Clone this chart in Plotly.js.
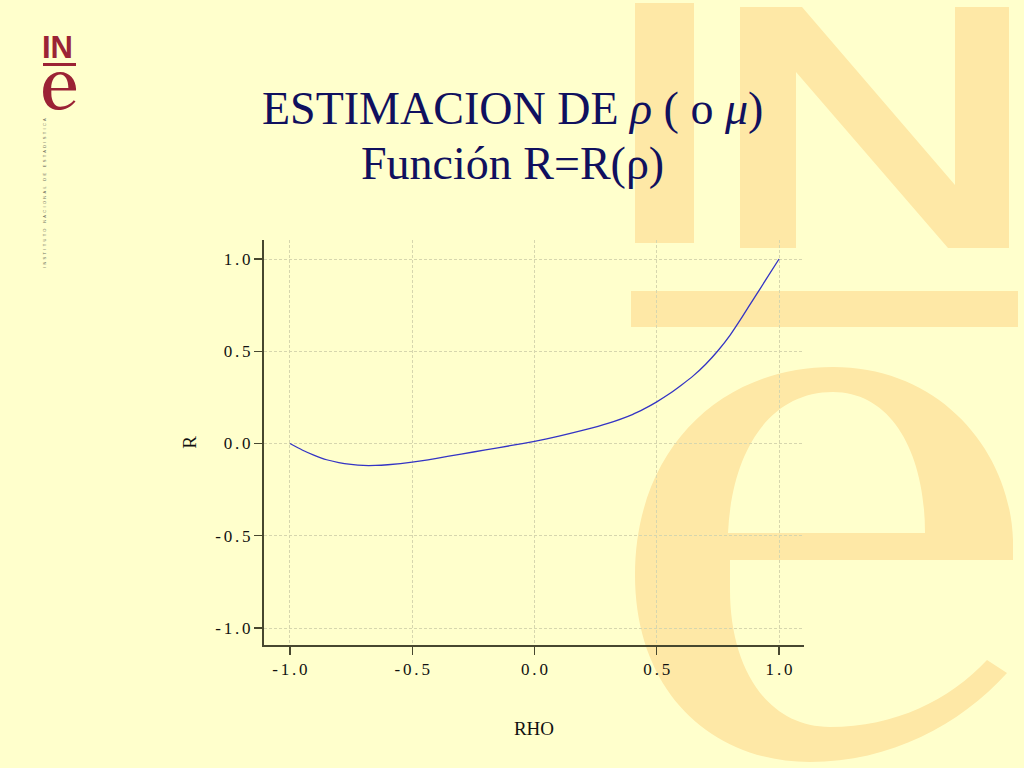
<!DOCTYPE html>
<html>
<head>
<meta charset="utf-8">
<script src="https://cdn.plot.ly/plotly-3.0.1.min.js"></script>
<style>
  html, body { margin:0; padding:0; background:#FFFFCC; }
  #wrap { position:relative; width:1024px; height:768px; overflow:hidden; background:#FFFFCC; }
  #bg { position:absolute; left:0; top:0; }
  #chart { position:absolute; left:0; top:0; width:1024px; height:768px; }
</style>
</head>
<body>
<div id="wrap">
  <svg id="bg" width="1024" height="768" xmlns="http://www.w3.org/2000/svg">
    <defs>
      <path id="eglyph" fill-rule="evenodd" d="M 1013 560 L 1013 540 C 1010 450, 940 367, 833 367 C 720 367, 635 450, 635 575
               C 635 690, 710 762, 810 762 C 890 762, 960 725, 1007 673 L 987 660
               C 950 700, 895 727, 830 727 C 765 727, 730 665, 730 590 L 730 560 Z
               M 728 533 L 925 533 C 925 450, 890 392, 833 392 C 770 392, 732 450, 728 533 Z"/>
    </defs>
    <g fill="#FEE8A6">
      <rect x="635" y="3" width="59" height="240"/>
      <polygon points="740,7 802,7 955,185 955,7 1009,7 1009,248 948,248 796,72 796,248 740,248"/>
      <rect x="631" y="291" width="387" height="36"/>
      <use href="#eglyph"/>
    </g>
    <g fill="#9B2335">
      <text x="42" y="58" font-family="Liberation Sans, Arial, sans-serif" font-weight="bold" font-size="31">IN</text>
      <rect x="43" y="63" width="33" height="3"/>
      <use href="#eglyph" transform="translate(-12.4,36.7) scale(0.0873,0.0962)"/>
    </g>
    <text transform="translate(46,268) rotate(-90)" font-family="Liberation Sans, Arial, sans-serif" font-size="4" letter-spacing="2.3" fill="#6f6f60">INSTITUTO NACIONAL DE ESTADISTICA</text>
  </svg>
  <div id="chart"></div>
</div>
<script>
const rho = [-1.0, -0.95, -0.9, -0.85, -0.8, -0.75, -0.7, -0.65, -0.6, -0.5, -0.4, -0.3, -0.2, -0.1,
             0.0, 0.1, 0.2, 0.3, 0.4, 0.45, 0.5, 0.55, 0.6, 0.65, 0.7, 0.75, 0.8, 0.85, 0.9, 0.95, 1.0];
const R   = [0.0, -0.035, -0.064, -0.088, -0.103, -0.113, -0.119, -0.119, -0.115, -0.101, -0.080, -0.057, -0.035, -0.012,
             0.012, 0.040, 0.072, 0.109, 0.157, 0.189, 0.226, 0.268, 0.316, 0.368, 0.430, 0.503, 0.588, 0.688, 0.792, 0.896, 1.0];

const tickVals = [-1, -0.5, 0, 0.5, 1];
const sp = '\u2006';
const tickText = ['-' + sp + '1' + sp + '.' + sp + '0', '-' + sp + '0' + sp + '.' + sp + '5',
                  '0' + sp + '.' + sp + '0', '0' + sp + '.' + sp + '5', '1' + sp + '.' + sp + '0'];

const titleLine1 = 'ESTIMACION DE <i>\u03C1</i> ( o <i>\u03BC</i>)';
const titleLine2 = 'Funci\u00F3n R=R(\u03C1)';
const xTitle = 'RHO';
const yTitle = 'R';

const serif = 'Liberation Serif, Times New Roman, serif';
const axisColor = '#47472f';
const gridColor = '#d6d6ae';

const trace = {
  x: rho, y: R, type: 'scatter', mode: 'lines',
  line: { color: '#3434c4', width: 1.3, shape: 'spline', smoothing: 0.6 },
  hoverinfo: 'skip'
};

const axisCommon = {
  showline: true, linecolor: axisColor, linewidth: 2,
  ticks: 'outside', ticklen: 8, tickwidth: 1.3, tickcolor: axisColor,
  showgrid: true, gridcolor: gridColor, gridwidth: 1, griddash: '3px,2px',
  zeroline: false, tickmode: 'array', tickvals: tickVals, ticktext: tickText,
  tickfont: { family: serif, size: 17, color: '#111111' },
  fixedrange: true
};

const layout = {
  width: 1024, height: 768,
  margin: { l: 264, r: 220, t: 240, b: 123, pad: 0 },
  paper_bgcolor: 'rgba(0,0,0,0)', plot_bgcolor: 'rgba(0,0,0,0)',
  showlegend: false,
  xaxis: Object.assign({}, axisCommon, {
    range: [-1.106, 1.102],
    title: { text: xTitle, font: { family: serif, size: 19, color: '#111111' }, standoff: 43 }
  }),
  yaxis: Object.assign({}, axisCommon, {
    range: [-1.092, 1.103],
    title: { text: yTitle, font: { family: serif, size: 19, color: '#111111' }, standoff: 14 }
  }),
  annotations: [
    { text: titleLine1, xref: 'paper', yref: 'paper', x: 0.4593, y: 1.3235, xanchor: 'center', yanchor: 'middle',
      showarrow: false, font: { family: serif, size: 46, color: '#10105e' } },
    { text: titleLine2, xref: 'paper', yref: 'paper', x: 0.4593, y: 1.19, xanchor: 'center', yanchor: 'middle',
      showarrow: false, font: { family: serif, size: 46, color: '#10105e' } }
  ]
};

Plotly.newPlot('chart', [trace], layout, { staticPlot: true, displayModeBar: false });
</script>
</body>
</html>
